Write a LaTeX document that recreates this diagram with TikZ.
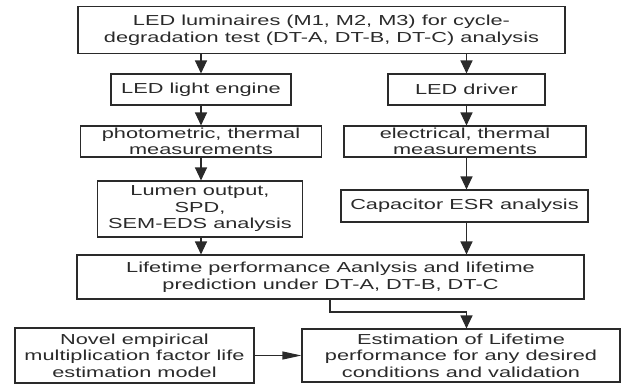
\documentclass[tikz,border=0pt]{standalone}
\usepackage{fontspec}
\setmainfont{Liberation Sans}[FakeStretch=1.5]
\usetikzlibrary{arrows.meta}
\definecolor{ink}{HTML}{2A2A2A}
\begin{document}
\begin{tikzpicture}[x=1pt,y=-1pt,
  box/.style={draw=ink,line width=1.1pt,rectangle,inner sep=0pt,align=center,
    text=ink,font=\fontsize{14.5}{16.5}\selectfont},
  flow/.style={draw=ink,line width=1.1pt,-{Triangle[length=13pt,width=12pt]}},
  hflow/.style={draw=ink,line width=1.1pt,-{Triangle[length=19pt,width=8pt]}}]
\useasboundingbox (0,0) rectangle (625,384);
% boxes
\node[box,minimum width=487pt,minimum height=47pt] (top) at (321.5,30)
  {LED luminaires (M1, M2, M3) for cycle-\\degradation test (DT-A, DT-B, DT-C) analysis};
\node[box,minimum width=180pt,minimum height=31pt] (engine) at (201,89.5) {LED light engine};
\node[box,minimum width=157pt,minimum height=31pt] (driver) at (466.5,89.5) {LED driver};
\node[box,minimum width=241pt,minimum height=31pt] (photo) at (201,141.5)
  {photometric, thermal\\measurements};
\node[box,minimum width=242pt,minimum height=31pt] (elec) at (465,141.5)
  {electrical, thermal\\measurements};
\node[box,minimum width=205pt,minimum height=56pt] (lumen) at (200,209)
  {Lumen output,\\SPD,\\SEM-EDS analysis};
\node[box,minimum width=247pt,minimum height=32pt] (esr) at (464.5,206)
  {Capacitor ESR analysis};
\node[box,minimum width=507pt,minimum height=44pt] (life) at (330.5,277)
  {Lifetime performance Aanlysis and lifetime\\prediction under DT-A, DT-B, DT-C};
\node[box,minimum width=239pt,minimum height=55pt] (novel) at (134.5,355.5)
  {Novel empirical\\multiplication factor life\\estimation model};
\node[box,minimum width=318pt,minimum height=53pt] (est) at (461,355.5)
  {Estimation of Lifetime\\performance for any desired\\conditions and validation};
% connectors: left column
\draw[flow] (engine.north |- top.south) -- (engine.north);
\draw[flow] (engine.south) -- (engine.south |- photo.north);
\draw[flow] (engine.south |- photo.south) coordinate (l1) -- (l1 |- lumen.north);
\draw[flow] (engine.south |- lumen.south) coordinate (l2) -- (l2 |- life.north);
% connectors: right column
\draw[flow] (driver.north |- top.south) -- (driver.north);
\draw[flow] (driver.south) -- (driver.south |- elec.north);
\draw[flow] (driver.south |- elec.south) coordinate (r1) -- (r1 |- esr.north);
\draw[flow] (driver.south |- esr.south) coordinate (r2) -- (r2 |- life.north);
% connectors: bottom
\coordinate (bend) at (330,312);
\draw[flow] (life.south -| bend) -- (bend) -- (bend -| driver.south) -- (driver.south |- est.north);
\draw[hflow] (novel.east) -- (novel.east -| est.west);
\end{tikzpicture}
\end{document}
